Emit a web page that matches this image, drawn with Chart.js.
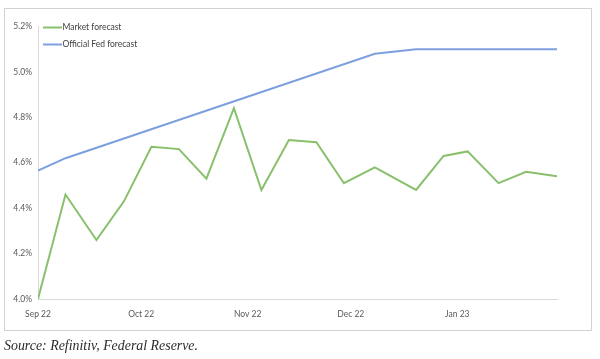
<!DOCTYPE html>
<html>
<head>
<meta charset="utf-8">
<script src="https://cdn.jsdelivr.net/npm/chart.js@4"></script>
<style>
  body { margin: 0; background: #fff; width: 600px; height: 359px; position: relative; overflow: hidden; }
  #frame { position: absolute; left: 4px; top: 8px; width: 588px; height: 323px; border: 1px solid #d2d2d2; box-sizing: border-box; }
  #chart { position: absolute; left: 0; top: 0; }
  #source { position: absolute; left: 4px; top: 338px; font-family: "Liberation Serif", "DejaVu Serif", serif; font-style: italic; font-size: 13.9px; color: #2b2b2b; white-space: nowrap; }
</style>
</head>
<body>
<div id="frame"></div>
<canvas id="chart" width="600" height="359"></canvas>
<div id="source">Source: Refinitiv, Federal Reserve.</div>
<script>
// market forecast
const marketDates = ['2022-09-01', '2022-09-09', '2022-09-18', '2022-09-26', '2022-10-04', '2022-10-12',
    '2022-10-20', '2022-10-28', '2022-11-05', '2022-11-13', '2022-11-21', '2022-11-29', '2022-12-08',
    '2022-12-20', '2022-12-28', '2023-01-04', '2023-01-13', '2023-01-21', '2023-01-30'];
const marketValues = [4.00, 4.46, 4.26, 4.43, 4.67, 4.66, 4.53, 4.84, 4.48, 4.70, 4.69, 4.51, 4.58,
    4.48, 4.63, 4.65, 4.51, 4.56, 4.54];

// official Fed forecast (only the corners of the line)
const fedDates = ['2022-09-01', '2022-09-09', '2022-12-08', '2022-12-20', '2023-01-30'];
const fedValues = [4.565, 4.62, 5.08, 5.10, 5.10];

const monthStarts = ['2022-09-01', '2022-10-01', '2022-11-01', '2022-12-01', '2023-01-01'];
const monthLabels = ['Sep 22', 'Oct 22', 'Nov 22', 'Dec 22', 'Jan 23'];
const yTicks = [4.0, 4.2, 4.4, 4.6, 4.8, 5.0, 5.2];

const seriesNames = ['Market forecast', 'Official Fed forecast'];
const seriesColors = ['#88c06b', '#7d9fdf'];

const origin = Date.parse('2022-09-01');
const dayOf = s => (Date.parse(s) - origin) / 86400000;
const toPoints = (dates, values) => dates.map((d, i) => ({ x: dayOf(d), y: values[i] }));

const labelFont = { family: 'Lato, "Open Sans", sans-serif', size: 8.5 };
const textColor = '#595959';

// legend drawn inside the plot, top-left
const insideLegend = {
    id: 'insideLegend',
    afterDraw(chart) {
        const ctx = chart.ctx;
        ctx.save();
        ctx.font = `${labelFont.size}px ${labelFont.family}`;
        ctx.textBaseline = 'middle';
        chart.data.datasets.forEach((ds, i) => {
            const y = 27.5 + i * 17;
            ctx.strokeStyle = ds.borderColor;
            ctx.lineWidth = 2;
            ctx.beginPath();
            ctx.moveTo(43, y);
            ctx.lineTo(62, y);
            ctx.stroke();
            ctx.fillStyle = '#404040';
            ctx.fillText(ds.label, 62.5, y);
        });
        ctx.restore();
    }
};

new Chart(document.getElementById('chart'), {
    type: 'line',
    data: {
        datasets: [
            {
                label: seriesNames[0],
                data: toPoints(marketDates, marketValues),
                borderColor: seriesColors[0],
                backgroundColor: seriesColors[0],
                borderWidth: 2,
                pointRadius: 0,
                tension: 0
            },
            {
                label: seriesNames[1],
                data: toPoints(fedDates, fedValues),
                borderColor: seriesColors[1],
                backgroundColor: seriesColors[1],
                borderWidth: 2,
                pointRadius: 0,
                tension: 0
            }
        ]
    },
    options: {
        responsive: false,
        animation: false,
        layout: { padding: { top: 26.5, right: 43, bottom: 0, left: 0 } },
        plugins: {
            legend: { display: false },
            tooltip: { enabled: false }
        },
        scales: {
            x: {
                type: 'linear',
                min: 0,
                max: 151,
                afterFit: s => { s.height = 60; },
                afterBuildTicks: s => { s.ticks = monthStarts.map(d => ({ value: dayOf(d) })); },
                grid: { display: false, drawTicks: false },
                border: { display: true, color: '#d9d9d9', width: 1 },
                ticks: {
                    padding: 10,
                    maxRotation: 0,
                    autoSkip: false,
                    color: textColor,
                    font: labelFont,
                    callback: v => monthLabels[monthStarts.findIndex(d => dayOf(d) === v)]
                }
            },
            y: {
                min: yTicks[0],
                max: yTicks[yTicks.length - 1],
                afterFit: s => { s.width = 38; },
                afterBuildTicks: s => { s.ticks = yTicks.map(v => ({ value: v })); },
                grid: { display: false, drawTicks: false },
                border: { display: true, color: '#d9d9d9', width: 1 },
                ticks: {
                    padding: 6,
                    color: textColor,
                    font: labelFont,
                    callback: v => v.toFixed(1) + '%'
                }
            }
        }
    },
    plugins: [insideLegend]
});
</script>
</body>
</html>
